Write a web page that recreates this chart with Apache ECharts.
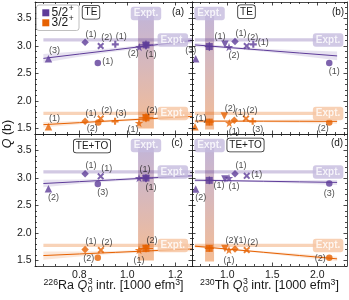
<!DOCTYPE html>
<html><head><meta charset="utf-8">
<script src="https://cdn.jsdelivr.net/npm/echarts@6.0.0/dist/echarts.min.js"></script>
<style>html,body{margin:0;padding:0;background:#fff;}#chart{width:349px;height:300px;}</style>
</head><body><div id="chart"></div>
<script>
// ================= DATA =================
const yTicks  = [1.5, 2.0, 2.5, 3.0, 3.5];
const yMinor  = [1.4,1.6,1.7,1.8,1.9,2.1,2.2,2.3,2.4,2.6,2.7,2.8,2.9,3.1,3.2,3.3,3.4,3.6,3.7,3.8];
const raTicks = [0.8, 1.0, 1.2];
const raMinor = [0.65,0.7,0.75,0.85,0.9,0.95,1.05,1.1,1.15,1.25];
const thTicks = [1.0, 1.5, 2.0];
const thMinor = [0.7,0.8,0.9,1.1,1.2,1.3,1.4,1.6,1.7,1.8,1.9,2.1,2.2,2.3];
const yRange  = [1.4, 3.8];
const raRange = [0.615, 1.27];
const thRange = [0.608, 2.33];

// experimental values [value, uncertainty]
const exptQ52  = [3.11, 0.03];
const exptQ32  = [1.775, 0.03];
const exptQ0Ra = [1.078, 0.033];
const exptQ0Th = [0.803, 0.05];

// points: [marker, Q0 intr., Q, label]
const aP = [['tri',0.671,2.77,'(3)'],['dia',0.824,3.07,'(1)'],['x',0.889,3.00,'(2)'],['plus',0.95,3.03,'(1)'],['circ',0.877,2.69,'(1)'],['star',1.05,2.98,'(2)'],['itri',1.078,3.00,'(1)']];
const aO = [['tri',0.671,1.53,'(1)'],['dia',0.824,1.634,'(1)'],['circ',0.879,1.61,'(2)'],['x',0.889,1.68,'(2)'],['plus',0.949,1.63,'(3)'],['star',1.049,1.60,'(1)'],['itri',1.078,1.69,'(2)']];
const bP = [['tri',0.649,2.77,'(3)'],['itri',0.974,3.03,'(1)'],['star',1.019,2.98,'(2)'],['dia',1.086,3.08,'(1)'],['x',1.216,3.00,'(2)'],['plus',1.289,3.03,'(1)'],['circ',2.133,2.69,'(1)']];
const bO = [['tri',0.641,1.53,'(1)'],['itri',0.967,1.726,'(2)'],['star',1.022,1.60,'(1)'],['dia',1.078,1.65,'(1)'],['x',1.208,1.68,'(2)'],['plus',1.282,1.63,'(3)'],['circ',2.133,1.61,'(2)']];
const cP = [['tri',0.671,2.806,'(2)'],['dia',0.824,3.078,'(1)'],['x',0.889,3.03,'(1)'],['circ',0.877,2.89,'(3)'],['star',1.049,3.00,'(1)'],['itri',1.078,2.98,'(1)']];
const cO = [['dia',0.824,1.70,'(1)'],['x',0.89,1.69,'(2)'],['circ',0.877,1.55,'(2)'],['star',1.049,1.69,'(1)'],['itri',1.078,1.72,'(2)']];
const dP = [['tri',0.649,2.80,'(2)'],['itri',0.974,2.98,'(1)'],['star',1.019,3.00,'(1)'],['dia',1.086,3.078,'(1)'],['x',1.216,3.04,'(1)'],['circ',2.133,2.90,'(3)']];
const dO = [['itri',0.974,1.72,'(2)'],['star',1.019,1.69,'(1)'],['dia',1.086,1.71,'(1)'],['x',1.216,1.69,'(2)'],['circ',2.133,1.55,'(2)']];

// label placement codes (layout only)
const aPpos = ['tr','tr','tr','tr','r','bl','br'];
const aOpos = ['tr','tr','bl','tr','tr','bl','tr'];
const bPpos = ['tl','tl','br','tr','tr','r','br'];
const bOpos = ['tr','tr','br','tr','tr','br','bl'];
const cPpos = ['br','tr','tr','br','tr','br'];
const cOpos = ['tr','tr','l','b','tr'];
const dPpos = ['br','bl','br','tr','r','b'];
const dOpos = ['tr','b','tr','tr','l'];

// predictions at experimental Q0: [x, Q, xerr, Qerr]
const aPred52 = [1.078, 3.02, 0.03, 0.08];
const aPred32 = [1.078, 1.695, 0.03, 0.08];
const bPred52 = [0.80, 2.99, 0.05, 0.08];
const bPred32 = [0.80, 1.616, 0.05, 0.06];
const cPred52 = [1.078, 3.00, 0.03, 0.07];
const cPred32 = [1.078, 1.72, 0.03, 0.07];
const dPred52 = [0.80, 2.957, 0.05, 0.07];
const dPred32 = [0.80, 1.72, 0.05, 0.06];

// linear fits with confidence bands
const raFitX = [0.65, 0.8, 0.95, 1.1, 1.27];
const thFitX = [0.64, 1.0, 1.4, 1.8, 2.22];
const aFit52 = [2.775, 2.854, 2.932, 3.011, 3.10];
const aLo52  = [2.695, 2.804, 2.902, 2.981, 3.05];
const aHi52  = [2.855, 2.904, 2.962, 3.041, 3.15];
const aFit32 = [1.57, 1.606, 1.643, 1.679, 1.72];
const aLo32  = [1.52, 1.576, 1.623, 1.654, 1.68];
const aHi32  = [1.62, 1.636, 1.663, 1.704, 1.76];
const bFit52 = [3.02, 2.974, 2.924, 2.873, 2.82];
const bLo52  = [2.98, 2.954, 2.899, 2.823, 2.74];
const bHi52  = [3.06, 2.994, 2.949, 2.923, 2.90];
const bFit32 = [1.635, 1.634, 1.633, 1.632, 1.63];
const bLo32  = [1.605, 1.619, 1.613, 1.602, 1.585];
const bHi32  = [1.665, 1.649, 1.653, 1.662, 1.675];
const cFit52 = [2.90, 2.934, 2.968, 3.002, 3.04];
const cLo52  = [2.83, 2.894, 2.943, 2.977, 3.00];
const cHi52  = [2.97, 2.974, 2.993, 3.027, 3.08];
const cFit32 = [1.59, 1.619, 1.648, 1.677, 1.71];
const cLo32  = [1.515, 1.574, 1.623, 1.652, 1.67];
const cHi32  = [1.665, 1.664, 1.673, 1.702, 1.75];
const dFit52 = [2.96, 2.951, 2.941, 2.930, 2.92];
const dLo52  = [2.93, 2.936, 2.921, 2.90, 2.875];
const dHi52  = [2.99, 2.966, 2.961, 2.96, 2.965];
const dFit32 = [1.76, 1.708, 1.650, 1.591, 1.53];
const dLo32  = [1.735, 1.693, 1.630, 1.561, 1.49];
const dHi32  = [1.785, 1.723, 1.670, 1.621, 1.57];

const spinNames = ['5/2', '3/2'];
const panelTags = ['TE', 'TE', 'TE+TO', 'TE+TO'];
const panelLetters = ['(a)', '(b)', '(c)', '(d)'];

// ================= STYLE / LAYOUT =================
const F = 'Liberation Sans';
const INK = '#1a1a1a';
const C = ['#5e3c99', '#e66101'];
const HB = ['rgba(94,60,153,0.28)', 'rgba(230,97,1,0.28)'];
const CB = ['rgba(94,60,153,0.15)', 'rgba(230,97,1,0.15)'];
const LBG = ['#c5bbde', '#f6c6a2'];
const VTOP = 3.6, VLAB = 3.59;
const GRIDS = [
  {left:35, top:2, width:157, height:132},
  {left:192, top:2, width:155, height:132},
  {left:35, top:134, width:157, height:132},
  {left:192, top:134, width:155, height:132}
];
const SYM = {
  tri: 'triangle', dia: 'diamond', circ: 'circle',
  x: 'path://M0,1.6L1.6,0L4,2.4L6.4,0L8,1.6L5.6,4L8,6.4L6.4,8L4,5.6L1.6,8L0,6.4L2.4,4Z',
  plus: 'path://M2.8,0H5.2V2.8H8V5.2H5.2V8H2.8V5.2H0V2.8H2.8Z',
  star: 'path://M100,0L122.45,69.1L195.1,69.1L136.3,111.8L158.8,180.9L100,138.2L41.2,180.9L63.7,111.8L4.9,69.1L77.55,69.1Z',
  itri: 'path://M0,0L10,0L5,8.66Z'
};
const SIZE = {tri:7.5, dia:7.5, circ:6.5, x:7, plus:7, star:8.5, itri:7.5};
const OFF = {tr:[6,-8], tl:[-5,-8], br:[5,8.5], bl:[-6,6.5], r:[10,-1.5], l:[-9,1], b:[0,10], t:[0,-9]};

const PANELS = [
  {pts:[aP,aO], pos:[aPpos,aOpos], pred:[aPred52,aPred32], fx:raFitX, fit:[aFit52,aFit32], lo:[aLo52,aLo32], hi:[aHi52,aHi32], q0:exptQ0Ra, vLo:1.5, hx:[0.65,1.27], lx:1.19, xr:raRange, xt:raTicks, xm:raMinor, bottom:false, left:true, tag:[91,12.3], let:[178,12]},
  {pts:[bP,bO], pos:[bPpos,bOpos], pred:[bPred52,bPred32], fx:thFitX, fit:[bFit52,bFit32], lo:[bLo52,bLo32], hi:[bHi52,bHi32], q0:exptQ0Th, vLo:1.48, hx:[0.64,2.22], lx:2.12, xr:thRange, xt:thTicks, xm:thMinor, bottom:false, left:false, tag:[246.5,11.8], let:[338,12]},
  {pts:[cP,cO], pos:[cPpos,cOpos], pred:[cPred52,cPred32], fx:raFitX, fit:[cFit52,cFit32], lo:[cLo52,cLo32], hi:[cHi52,cHi32], q0:exptQ0Ra, vLo:1.5, hx:[0.65,1.27], lx:1.19, xr:raRange, xt:raTicks, xm:raMinor, bottom:true, left:true, tag:[92,146], let:[177,143]},
  {pts:[dP,dO], pos:[dPpos,dOpos], pred:[dPred52,dPred32], fx:thFitX, fit:[dFit52,dFit32], lo:[dLo52,dLo32], hi:[dHi52,dHi32], q0:exptQ0Th, vLo:1.48, hx:[0.64,2.22], lx:2.12, xr:thRange, xt:thTicks, xm:thMinor, bottom:true, left:false, tag:[245.5,145], let:[337,143]}
];

// ================= BUILD =================
function mkAxis(g, pos, range, vals, len, showLine, showLab) {
  return {
    type:'value', gridIndex:g, position:pos, min:range[0], max:range[1],
    splitLine:{show:false}, splitArea:{show:false}, minorTick:{show:false},
    axisLine:{show:showLine, onZero:false, lineStyle:{color:INK, width:0.8}},
    axisTick:{show:true, inside:true, length:len, customValues:vals, lineStyle:{color:INK, width:0.8}},
    axisLabel:{show:showLab, customValues:vals, margin:3.5, fontSize:10.5, fontFamily:F, color:INK,
               formatter: v => (+v).toFixed(1)},
    axisPointer:{show:false}, silent:true, z:10
  };
}
function rectItem(fill) {
  return (params, api) => {
    const a = api.coord([api.value(0), api.value(3)]);
    const b = api.coord([api.value(1), api.value(2)]);
    return {type:'rect', shape:{x:a[0], y:a[1], width:b[0]-a[0], height:b[1]-a[1]}, style:{fill}};
  };
}
function polyItem(xs, lo, hi, fill) {
  return (params, api) => {
    const up = xs.map((x,i) => api.coord([x, hi[i]]));
    const dn = xs.map((x,i) => api.coord([x, lo[i]])).reverse();
    return {type:'polygon', shape:{points:up.concat(dn)}, style:{fill}};
  };
}
function errItem(col) {
  return (params, api) => {
    const x = api.value(0), y = api.value(1), ex = api.value(2), ey = api.value(3);
    const a = api.coord([x-ex, y]), b = api.coord([x+ex, y]);
    const c = api.coord([x, y-ey]), d = api.coord([x, y+ey]);
    return {type:'group', children:[
      {type:'line', shape:{x1:a[0], y1:a[1], x2:b[0], y2:b[1]}, style:{stroke:col, lineWidth:1}},
      {type:'line', shape:{x1:c[0], y1:c[1], x2:d[0], y2:d[1]}, style:{stroke:col, lineWidth:1}}
    ]};
  };
}

const xAxis = [], yAxis = [], series = [], graphic = [];
const vGrad = new echarts.graphic.LinearGradient(0, 0, 0, 1, [
  {offset:0, color:'rgba(94,60,153,0.38)'}, {offset:1, color:'rgba(230,97,1,0.42)'}
]);

PANELS.forEach((p, g) => {
  xAxis.push(mkAxis(g,'bottom',p.xr,p.xt,3.5,true,p.bottom), mkAxis(g,'bottom',p.xr,p.xm,2,false,false),
             mkAxis(g,'top',p.xr,p.xt,3.5,true,false), mkAxis(g,'top',p.xr,p.xm,2,false,false));
  yAxis.push(mkAxis(g,'left',yRange,yTicks,3.5,true,p.left), mkAxis(g,'left',yRange,yMinor,2,false,false),
             mkAxis(g,'right',yRange,yTicks,3.5,true,false), mkAxis(g,'right',yRange,yMinor,2,false,false));
  const cm = {xAxisIndex:4*g, yAxisIndex:4*g, silent:true, animation:false};
  series.push({...cm, type:'custom', z:1, data:[[p.q0[0]-p.q0[1], p.q0[0]+p.q0[1], p.vLo, VTOP]],
               encode:{x:[0,1], y:[2,3]}, renderItem:rectItem(vGrad)});
  [exptQ52, exptQ32].forEach((q, s) => {
    series.push({...cm, type:'custom', z:2, data:[[p.hx[0], p.hx[1], q[0]-q[1], q[0]+q[1]]],
                 encode:{x:[0,1], y:[2,3]}, renderItem:rectItem(HB[s])});
  });
  for (let s = 0; s < 2; s++) {
    series.push({...cm, type:'custom', z:3, data:[[p.fx[0], p.lo[s][0]]], encode:{x:0, y:1},
                 renderItem:polyItem(p.fx, p.lo[s], p.hi[s], CB[s])});
    series.push({...cm, type:'line', z:4, data:p.fx.map((x,i) => [x, p.fit[s][i]]), symbol:'none', showSymbol:false,
                 lineStyle:{color:C[s], width:1}});
    series.push({...cm, type:'custom', z:5, data:[p.pred[s]], encode:{x:0, y:1}, renderItem:errItem(C[s])});
    series.push({...cm, type:'scatter', z:6, data:[[p.pred[s][0], p.pred[s][1]]], symbol:'rect', symbolSize:7,
                 itemStyle:{color:C[s]}});
    series.push({...cm, type:'scatter', z:6,
      data:p.pts[s].map((d,i) => ({value:[d[1], d[2]], symbol:SYM[d[0]], symbolSize:SIZE[d[0]],
        label:{offset:OFF[p.pos[s][i]], formatter:d[3]}})),
      itemStyle:{color:C[s]},
      label:{show:true, position:'inside', fontSize:9, fontFamily:F, color:INK}});
  }
  series.push({...cm, type:'scatter', z:8, symbolSize:1, itemStyle:{color:'rgba(0,0,0,0)'},
    data:[{value:[p.q0[0], VLAB], label:{backgroundColor:LBG[0]}},
          {value:[p.lx, exptQ52[0]], label:{backgroundColor:LBG[0]}},
          {value:[p.lx, exptQ32[0]], label:{backgroundColor:LBG[1]}}],
    label:{show:true, position:'inside', formatter:'Expt.', fontSize:10, fontWeight:'bold', fontFamily:F,
           color:'#fff', padding:[2,3,1.5,3], borderRadius:3}});
  // tag box + letter
  graphic.push({type:'text', z:100, x:p.tag[0], y:p.tag[1], style:{text:panelTags[g], font:`10px "${F}"`, fill:INK,
    align:'center', verticalAlign:'middle', backgroundColor:'#fff', borderColor:'#222', borderWidth:0.8,
    borderRadius:2.5, padding:[2,2,1,2]}});
  graphic.push({type:'text', z:100, x:p.let[0], y:p.let[1], style:{text:panelLetters[g], font:`10px "${F}"`, fill:INK,
    align:'center', verticalAlign:'middle'}});
});

// legend
const mctx = document.createElement('canvas').getContext('2d');
function tw(t, font) { mctx.font = font; return mctx.measureText(t).width; }
const LF = `12px "${F}"`, LS = `8.4px "${F}"`;
graphic.push({type:'rect', z:100, shape:{x:36.5, y:5, width:42.5, height:25.5, r:2.5},
  style:{fill:'rgba(255,255,255,0.9)', stroke:'#b0b0b0', lineWidth:0.8}});
spinNames.forEach((n, s) => {
  const cy = 12.8 + 10 * s;
  graphic.push({type:'rect', z:101, shape:{x:42.3, y:cy-3.5, width:7, height:7}, style:{fill:C[s]}});
  graphic.push({type:'text', z:101, x:51.5, y:cy, style:{text:n, font:LF, fill:INK, align:'left', verticalAlign:'middle'}});
  graphic.push({type:'text', z:101, x:51.5 + tw(n, LF) + 0.5, y:cy-3.8, style:{text:'+', font:LS, fill:INK, align:'left', verticalAlign:'middle'}});
});

// axis titles
function xTitle(cx, iso, el) {
  const M = `12.5px "${F}"`, S = `8.75px "${F}"`, I = `italic 12.5px "${F}"`;
  const ym = 286;
  const parts = [
    {t:iso, f:S, dy:-3.6}, {t:el + ' ', f:M, dy:0}, {t:'Q', f:I, dy:0}, {stack:true},
    {t:' intr. [1000 efm', f:M, dy:0}, {t:'3', f:S, dy:-3.6}, {t:']', f:M, dy:0}
  ];
  const sw = tw('0', S) + 0.5;
  const total = parts.reduce((acc, q) => acc + (q.stack ? sw : tw(q.t, q.f)), 0);
  let x = cx - total / 2;
  parts.forEach(q => {
    if (q.stack) {
      graphic.push({type:'text', z:100, x:x+0.5, y:ym-4, style:{text:'3', font:S, fill:INK, align:'left', verticalAlign:'middle'}});
      graphic.push({type:'text', z:100, x:x+0.5, y:ym+3.8, style:{text:'0', font:S, fill:INK, align:'left', verticalAlign:'middle'}});
      x += sw;
    } else {
      graphic.push({type:'text', z:100, x, y:ym+q.dy, style:{text:q.t, font:q.f, fill:INK, align:'left', verticalAlign:'middle'}});
      x += tw(q.t, q.f);
    }
  });
}
xTitle(113.5, '226', 'Ra');
xTitle(269.5, '230', 'Th');
graphic.push({type:'text', z:100, x:8, y:134, rotation:Math.PI/2,
  style:{text:'{i|Q} (b)', font:`12.5px "${F}"`, fill:INK, align:'center', verticalAlign:'middle',
         rich:{i:{font:`italic 12.5px "${F}"`, fill:INK}}}});

const option = {
  animation:false, backgroundColor:'#fff',
  grid:GRIDS.map(g => ({...g, containLabel:false})),
  xAxis, yAxis, series, graphic
};
const chart = echarts.init(document.getElementById('chart'), null, {renderer:'canvas', width:349, height:300});
chart.setOption(option);
</script></body></html>
